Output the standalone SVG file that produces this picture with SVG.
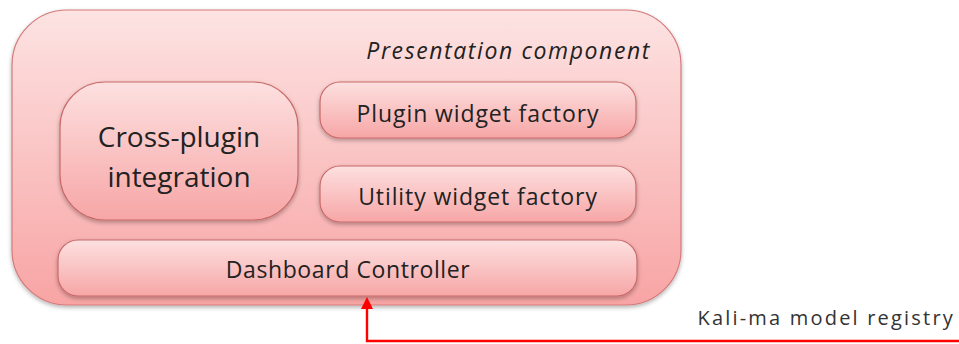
<svg xmlns="http://www.w3.org/2000/svg" width="959" height="344" viewBox="0 0 959 344">
<defs>
<linearGradient id="gOuter" x1="0" y1="0" x2="0" y2="1">
<stop offset="0" stop-color="#fde3e3"/>
<stop offset="1" stop-color="#f8a4a4"/>
</linearGradient>
<linearGradient id="gInner" x1="0" y1="0" x2="0" y2="1">
<stop offset="0" stop-color="#fde0e0"/>
<stop offset="1" stop-color="#f7a6a6"/>
</linearGradient>
<filter id="sh" x="-10%" y="-10%" width="120%" height="130%">
<feDropShadow dx="0" dy="2" stdDeviation="2" flood-color="#000" flood-opacity="0.3"/>
</filter>
<marker id="arr" markerWidth="12" markerHeight="12" refX="6" refY="6" orient="auto" markerUnits="userSpaceOnUse">
<path d="M0,0 L12,6 L0,12 z" fill="#ff0000"/>
</marker>
</defs>
<style>
.box{fill:url(#gInner);stroke:#c96a6a;stroke-width:1.2;filter:url(#sh)}
.t{font-family:"Open Sans","Liberation Sans",sans-serif;fill:#222;text-anchor:middle}
</style>
<g id="presentation">
<rect x="12" y="10" width="669" height="295" rx="55" fill="url(#gOuter)" stroke="#d47a7a" stroke-width="1.2" filter="url(#sh)"/>
<text x="651" y="59" class="t" style="text-anchor:end;font-style:italic;font-size:23px;letter-spacing:1.6px">Presentation component</text>
</g>
<g id="cross-plugin">
<rect x="60" y="82" width="238" height="138" rx="45" class="box"/>
<text x="179" y="147" class="t" style="font-size:28px">Cross-plugin</text>
<text x="179" y="187" class="t" style="font-size:28px">integration</text>
</g>
<g id="plugin-factory">
<rect x="320" y="82" width="316" height="56" rx="20" class="box"/>
<text x="478" y="122" class="t" style="font-size:23px;letter-spacing:0.9px">Plugin widget factory</text>
</g>
<g id="utility-factory">
<rect x="320" y="166" width="316" height="56" rx="20" class="box"/>
<text x="478" y="205" class="t" style="font-size:23px;letter-spacing:0.9px">Utility widget factory</text>
</g>
<g id="dashboard">
<rect x="58" y="240" width="579" height="56" rx="20" class="box"/>
<text x="348" y="278" class="t" style="font-size:23px;letter-spacing:0.6px">Dashboard Controller</text>
</g>
<g id="registry">
<text x="955" y="325" class="t" style="text-anchor:end;font-size:20px;fill:#333;letter-spacing:2.2px">Kali-ma model registry</text>
</g>
<g id="connectors">
<polyline points="959,341 367,341 367,303" fill="none" stroke="#ff0000" stroke-width="2.4" marker-end="url(#arr)"/>
</g>
</svg>
